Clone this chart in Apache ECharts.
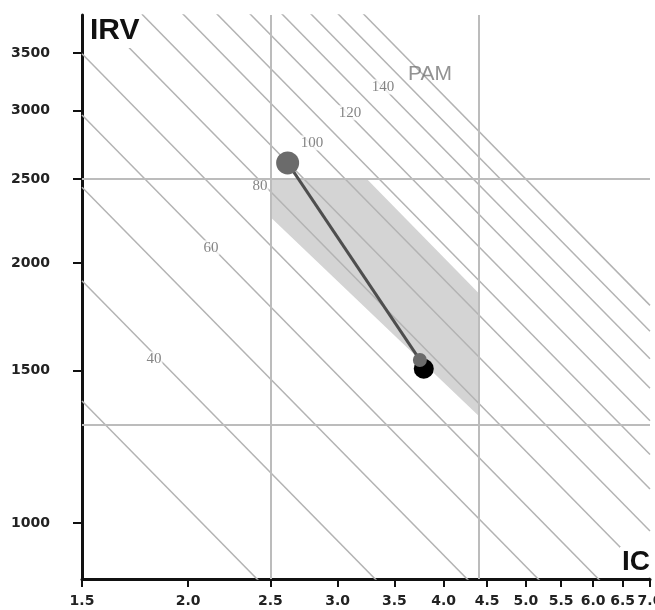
<!DOCTYPE html>
<html>
<head>
<meta charset="utf-8">
<script src="https://cdn.jsdelivr.net/npm/echarts@6/dist/echarts.min.js"></script>
<style>
  html, body { margin: 0; padding: 0; background: #fff; }
  #chart { width: 655px; height: 610px; }
</style>
</head>
<body>
<div id="chart"></div>
<script>
// axis ticks
const icTicks = [1.5, 2.0, 2.5, 3.0, 3.5, 4.0, 4.5, 5.0, 5.5, 6.0, 6.5, 7.0];
const irvTicks = [1000, 1500, 2000, 2500, 3000, 3500];
const irvRange = [861, 3873];

// background isopleths, IC x IRV constant of each line
const isoProducts = [2076, 2860, 3670, 4450, 5240, 6050, 6850, 7660, 8400, 9190, 10020, 10840, 11670, 12500];

// PAM labels on the isopleths: [IC, IRV, text]
const pamLabels = [
  [1.823, 1548, '40'],
  [2.128, 2082, '60'],
  [2.431, 2455, '80'],
  [2.799, 2754, '100'],
  [3.103, 2984, '120'],
  [3.393, 3197, '140']
];
const pamTitle = [3.855, 3310, 'PAM'];

// normal limits
const refIC = [2.5, 4.4];
const refIRV = [2500, 1300];

// shaded target zone (IC, IRV)
const zone = [[2.5, 2500], [3.25, 2500], [4.4, 1845], [4.4, 1330], [2.5, 2260]];

// measured track and current point (IC, IRV)
const track = [[2.62, 2611], [3.75, 1544]];
const current = [[3.79, 1508]];

const chart = echarts.init(document.getElementById('chart'));

const tickFont = { fontFamily: 'DejaVu Sans', fontWeight: 'bold', fontSize: 14, color: '#222' };
const icMin = icTicks[0], icMax = icTicks[icTicks.length - 1];

const isoSeries = isoProducts.map(k => ({
  type: 'line',
  data: [[icMin, k / icMin], [icMax, k / icMax]],
  showSymbol: false,
  silent: true,
  clip: true,
  lineStyle: { color: '#b3b3b3', width: 1.5 },
  z: 2
}));

const option = {
  animation: false,
  grid: { left: 82, right: 5, top: 15, bottom: 31, outerBoundsMode: 'none' },
  xAxis: {
    type: 'log',
    min: icMin,
    max: icMax,
    axisLine: { lineStyle: { color: '#111', width: 3 } },
    axisTick: { customValues: icTicks, length: 8, lineStyle: { color: '#111', width: 2 } },
    axisLabel: Object.assign({ customValues: icTicks, margin: 15, formatter: v => Number(v).toFixed(1) }, tickFont),
    splitLine: { show: false },
    minorTick: { show: false }
  },
  yAxis: {
    type: 'log',
    min: irvRange[0],
    max: irvRange[1],
    axisLine: { lineStyle: { color: '#111', width: 3 } },
    axisTick: { customValues: irvTicks, length: 9, lineStyle: { color: '#111', width: 2 } },
    axisLabel: Object.assign({ customValues: irvTicks, margin: 32, formatter: v => String(Math.round(v)) }, tickFont),
    splitLine: { show: false },
    minorTick: { show: false }
  },
  series: [
    {
      // target zone
      type: 'custom',
      data: [zone[0]],
      silent: true,
      z: 1,
      renderItem: (params, api) => ({
        type: 'polygon',
        shape: { points: zone.map(p => api.coord(p)) },
        style: { fill: '#d4d4d4' }
      })
    },
    ...isoSeries,
    {
      // normal limits
      type: 'line',
      data: [],
      silent: true,
      z: 3,
      markLine: {
        silent: true,
        symbol: 'none',
        label: { show: false },
        lineStyle: { color: '#bcbcbc', width: 2, type: 'solid' },
        data: [
          ...refIC.map(v => ({ xAxis: v })),
          ...refIRV.map(v => ({ yAxis: v }))
        ]
      }
    },
    {
      // PAM labels
      type: 'scatter',
      symbolSize: 0,
      silent: true,
      z: 4,
      data: [
        ...pamLabels.map(d => ({ value: [d[0], d[1]], name: d[2] })),
        {
          value: [pamTitle[0], pamTitle[1]],
          name: pamTitle[2],
          label: { fontFamily: 'Liberation Sans', fontSize: 21, color: '#777', backgroundColor: 'transparent' }
        }
      ],
      label: {
        show: true,
        position: 'inside',
        formatter: p => p.name,
        fontFamily: 'Liberation Serif',
        fontSize: 15,
        color: '#666',
        backgroundColor: '#fff',
        padding: [0, 1]
      }
    },
    {
      type: 'scatter',
      data: current,
      symbol: 'circle',
      symbolSize: 20,
      itemStyle: { color: '#000', opacity: 1 },
      z: 5
    },
    {
      type: 'line',
      data: track,
      symbol: 'circle',
      symbolSize: (v, p) => (p.dataIndex === 0 ? 23 : 14),
      showSymbol: true,
      itemStyle: { color: '#6b6b6b', opacity: 1 },
      lineStyle: { color: '#4e4e4e', width: 3 },
      z: 6
    }
  ],
  graphic: [
    {
      type: 'text',
      left: 88,
      top: 14,
      z: 100,
      style: { text: 'IRV', font: 'bold 30px "Liberation Sans"', fill: '#111', backgroundColor: '#fff', padding: [2, 2] }
    },
    {
      type: 'text',
      left: 620,
      top: 547,
      z: 100,
      style: { text: 'IC', font: 'bold 28px "Liberation Sans"', fill: '#111', backgroundColor: '#fff', padding: [1, 2] }
    }
  ]
};

chart.setOption(option);
</script>
</body>
</html>
